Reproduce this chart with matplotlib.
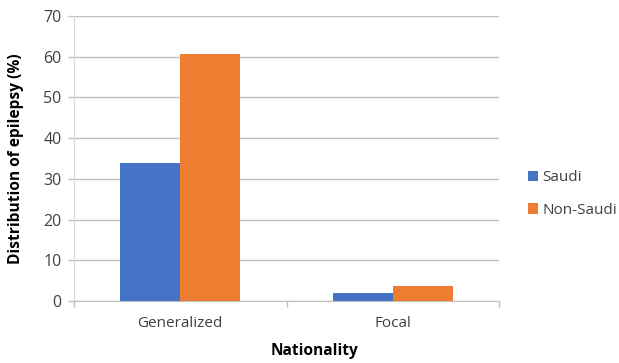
import numpy as np
import matplotlib.pyplot as plt

plt.rcParams['font.family'] = ['Open Sans', 'DejaVu Sans']

categories = ['Generalized', 'Focal']
saudi = [33.8, 1.9]
non_saudi = [60.6, 3.7]
series_names = ['Saudi', 'Non-Saudi']
colors = ['#4472C4', '#ED7D31']
grid_c = '#BFBFBF'
txt_c = '#404040'

fig = plt.figure(figsize=(6.19, 3.63), dpi=100)
ax = fig.add_axes([0.1196, 0.1708, 0.6866, 0.7851])

x = np.arange(len(categories))
w = 0.282
ax.bar(x - w / 2, saudi, w, color=colors[0], label=series_names[0], zorder=3)
ax.bar(x + w / 2, non_saudi, w, color=colors[1], label=series_names[1], zorder=3)

ax.set_xlim(-0.5, 1.5)
ax.set_ylim(0, 70)
ax.set_yticks(np.arange(0, 71, 10))
ax.yaxis.grid(True, color=grid_c, lw=1)
ax.set_axisbelow(True)

ax.set_xticks(x)
ax.set_xticklabels(categories)
ax.set_xticks([-0.5, 0.5, 1.5], minor=True)
ax.tick_params(axis='x', which='major', length=0, pad=11, labelsize=11, labelcolor=txt_c)
ax.tick_params(axis='x', which='minor', length=4, color=grid_c, width=1)
ax.tick_params(axis='y', length=4, color=grid_c, width=1, labelsize=11.5, labelcolor=txt_c, pad=5)

for s in ['top', 'right']:
    ax.spines[s].set_visible(False)
ax.spines['left'].set_color('#D9D9D9')
ax.spines['bottom'].set_color(grid_c)

ax.set_ylabel('Distribution of epilepsy (%)', fontsize=11.2, fontweight='bold')
ax.yaxis.set_label_coords(-0.117, 0.5)
ax.set_xlabel('Nationality', fontsize=11.2, fontweight='bold')
ax.xaxis.set_label_coords(0.565, -0.148)

ax.legend(loc='center left', bbox_to_anchor=(1.036, 0.375), frameon=False,
          fontsize=11, handlelength=0.65, handleheight=0.65, handletextpad=0.3,
          labelspacing=1.15, labelcolor=txt_c)

fig.savefig('out.png', dpi=100)
